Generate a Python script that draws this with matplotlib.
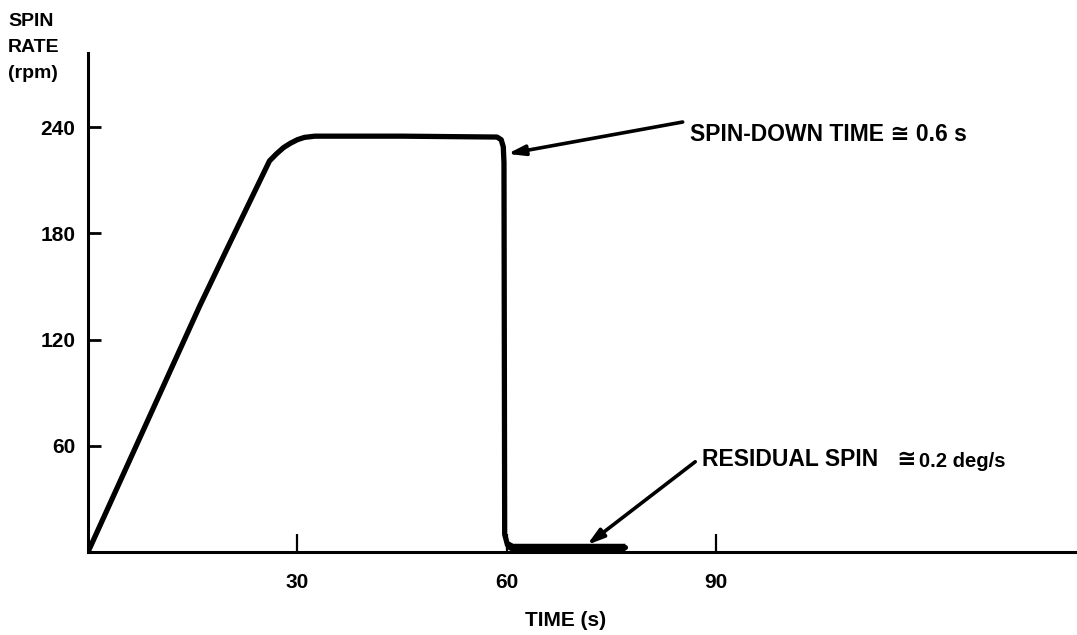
import matplotlib
matplotlib.use("Agg")
import matplotlib.pyplot as plt

# ---- data ----
time_s = [0, 16, 20, 26.0, 27.0, 28.0, 29.0, 30.0, 31.0, 32.5, 45, 58.6, 59.2, 59.5, 59.6, 59.7, 60.1, 60.8, 62, 77]
spin_rpm = [0, 139, 172, 221, 225, 228.5, 231, 233, 234.3, 235, 235, 234.5, 233, 229, 220, 10, 4, 2.5, 2.5, 2.5]

x_ticks = [30, 60, 90]
y_ticks = [60, 120, 180, 240]

spin_down_label = "SPIN-DOWN TIME \u2245 0.6 s"
residual_label = "RESIDUAL SPIN   \u2245"
residual_value = "0.2 deg/s"

spin_down_head = (60.1, 225)
spin_down_tail = (85.2, 243)
residual_head = (71.5, 4)
residual_tail = (87.0, 51)

fam = ['Liberation Sans', 'DejaVu Sans']
plt.rcParams['font.family'] = fam
plt.rcParams['font.weight'] = 'bold'

W, H = 1077, 635
fig = plt.figure(figsize=(W / 100, H / 100), dpi=100)
ax = fig.add_axes([88 / W, (H - 552) / H, (W - 88) / W, (552 - 53) / H])

ax.plot(time_s, spin_rpm, color='black', lw=3.8, solid_capstyle='round', solid_joinstyle='round')
# thicker residual segment
ax.plot(time_s[-4:], spin_rpm[-4:], color='black', lw=5.5, solid_capstyle='butt')

ax.set_xlim(0, 141.7)
ax.set_ylim(0, 282)

for s in ['top', 'right']:
    ax.spines[s].set_visible(False)
for s in ['left', 'bottom']:
    ax.spines[s].set_linewidth(2.2)

ax.set_xticks(x_ticks)
ax.set_yticks(y_ticks)
ax.set_xticklabels([str(v) for v in x_ticks], fontsize=15, fontweight='bold')
ax.set_yticklabels([str(v) for v in y_ticks], fontsize=15, fontweight='bold')
ax.tick_params(axis='x', direction='in', length=13, width=1.6, pad=15)
ax.tick_params(axis='y', direction='in', length=9.5, width=2.0, pad=9)

ax.set_xlabel("TIME (s)", fontsize=15, fontweight='bold')
ax.xaxis.set_label_coords((566 - 88) / (W - 88), -(621 - 552) / (552 - 53))
ax.xaxis.label.set_va('center')

# y axis title
for txt, yp in [("SPIN", 22), ("RATE", 47), ("(rpm)", 74)]:
    fig.text(8 / W, (H - yp) / H, txt, fontsize=14, fontweight='bold', va='center', ha='left')

arrow_kw = dict(arrowstyle='-|>,head_length=1.0,head_width=0.3', color='black', lw=2.6,
                shrinkA=0, shrinkB=0)
ax.annotate('', xy=spin_down_head, xytext=spin_down_tail, arrowprops=arrow_kw)
ax.text(86.3, 236, spin_down_label, fontsize=16.5, fontweight='bold', va='center', ha='left',
        family=fam)

ax.annotate('', xy=residual_head, xytext=residual_tail, arrowprops=arrow_kw)
t = ax.text(88.0, 52, residual_label, fontsize=16.5, fontweight='bold', va='center', ha='left',
            family=fam)
fig.canvas.draw()
bb = t.get_window_extent()
inv = ax.transData.inverted()
x_end = inv.transform((bb.x1, bb.y0))[0]
ax.text(x_end + 0.3, 51, residual_value, fontsize=14.5, fontweight='bold', va='center', ha='left',
        family=fam)

fig.savefig("out.png", dpi=100)
